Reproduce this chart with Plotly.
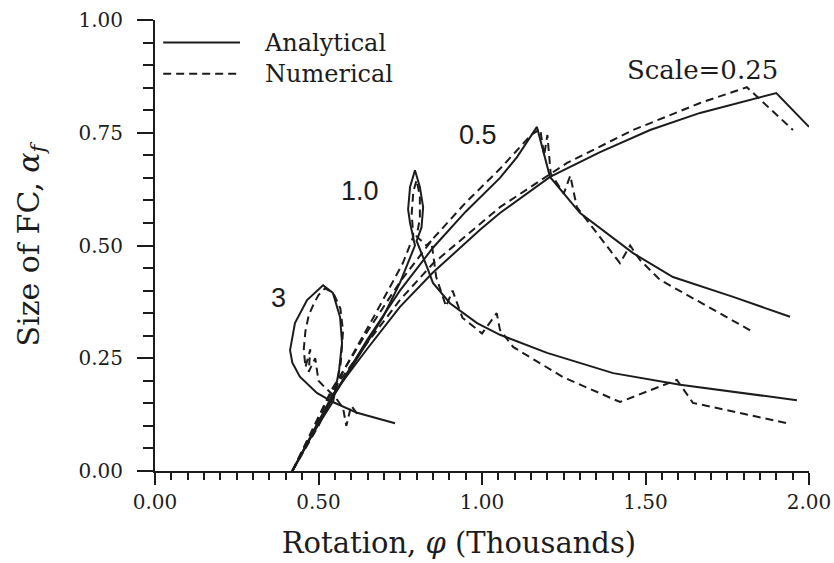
import plotly.graph_objects as go

# ---- data (rotation in thousands, size of FC) ----
x_an_3 = [0.42, 0.48, 0.545, 0.563, 0.572, 0.566, 0.544, 0.514, 0.465, 0.428, 0.413, 0.420, 0.443, 0.495, 0.544, 0.618, 0.734]
y_an_3 = [0.0, 0.08, 0.155, 0.224, 0.284, 0.341, 0.395, 0.412, 0.379, 0.328, 0.268, 0.240, 0.209, 0.173, 0.153, 0.129, 0.106]

x_nu_3 = [0.42, 0.48, 0.55, 0.568, 0.575, 0.567, 0.545, 0.52, 0.50, 0.485, 0.47, 0.46, 0.455, 0.46, 0.475, 0.47, 0.49, 0.50, 0.52, 0.55, 0.575, 0.585, 0.60, 0.62]
y_nu_3 = [0.0, 0.085, 0.17, 0.24, 0.31, 0.36, 0.395, 0.405, 0.39, 0.37, 0.345, 0.31, 0.27, 0.23, 0.27, 0.22, 0.25, 0.20, 0.185, 0.165, 0.14, 0.10, 0.145, 0.125]

x_an_10 = [0.42, 0.544, 0.648, 0.697, 0.749, 0.795, 0.78, 0.774, 0.78, 0.795, 0.81, 0.82, 0.815, 0.80, 0.832, 0.850, 0.902, 0.985, 1.055, 1.199, 1.401, 1.606, 1.963]
y_an_10 = [0.0, 0.164, 0.284, 0.341, 0.417, 0.50, 0.55, 0.58, 0.63, 0.667, 0.63, 0.585, 0.54, 0.51, 0.452, 0.417, 0.372, 0.328, 0.302, 0.262, 0.217, 0.191, 0.157]

x_nu_10 = [0.42, 0.50, 0.575, 0.679, 0.758, 0.79, 0.785, 0.79, 0.80, 0.81, 0.81, 0.80, 0.83, 0.845, 0.86, 0.89, 0.91, 0.94, 1.00, 1.045, 1.055, 1.095, 1.248, 1.422, 1.596, 1.645, 1.933]
y_nu_10 = [0.0, 0.10, 0.22, 0.355, 0.461, 0.52, 0.57, 0.62, 0.645, 0.61, 0.56, 0.52, 0.50, 0.51, 0.43, 0.365, 0.40, 0.34, 0.305, 0.35, 0.313, 0.275, 0.208, 0.153, 0.202, 0.151, 0.106]

x_an_05 = [0.42, 0.544, 0.648, 0.749, 0.85, 0.95, 1.055, 1.107, 1.168, 1.208, 1.30, 1.462, 1.584, 1.768, 1.942]
y_an_05 = [0.0, 0.165, 0.29, 0.40, 0.495, 0.575, 0.65, 0.696, 0.763, 0.652, 0.572, 0.483, 0.430, 0.386, 0.342]

x_nu_05 = [0.42, 0.54, 0.65, 0.75, 0.85, 0.95, 1.055, 1.15, 1.178, 1.19, 1.20, 1.21, 1.25, 1.27, 1.29, 1.36, 1.422, 1.453, 1.483, 1.544, 1.83]
y_nu_05 = [0.0, 0.18, 0.31, 0.42, 0.515, 0.595, 0.67, 0.745, 0.758, 0.70, 0.745, 0.66, 0.615, 0.655, 0.585, 0.52, 0.461, 0.50, 0.468, 0.424, 0.308]

x_an_025 = [0.42, 0.544, 0.648, 0.749, 0.85, 0.994, 1.055, 1.208, 1.361, 1.514, 1.667, 1.90, 2.0]
y_an_025 = [0.0, 0.17, 0.27, 0.364, 0.44, 0.535, 0.572, 0.652, 0.707, 0.756, 0.794, 0.838, 0.763]

x_nu_025 = [0.42, 0.54, 0.65, 0.75, 0.85, 1.055, 1.26, 1.462, 1.667, 1.81, 1.951]
y_nu_025 = [0.0, 0.175, 0.285, 0.38, 0.46, 0.585, 0.683, 0.756, 0.816, 0.851, 0.756]

x_ticks = [0.0, 0.5, 1.0, 1.5, 2.0]
y_ticks = [0.0, 0.25, 0.5, 0.75, 1.0]

scale_labels = ["3", "1.0", "0.5", "Scale=0.25"]
scale_label_x = [0.379, 0.627, 0.988, 1.675]
scale_label_y = [0.384, 0.62, 0.745, 0.89]

legend_names = ["Analytical", "Numerical"]

INK = "#1c1c1c"
SERIF = "DejaVu Serif"
SANS = "Liberation Sans, Arial, sans-serif"

fig = go.Figure()
series = [
    (x_an_3, y_an_3, "solid"), (x_nu_3, y_nu_3, "dash"),
    (x_an_10, y_an_10, "solid"), (x_nu_10, y_nu_10, "dash"),
    (x_an_05, y_an_05, "solid"), (x_nu_05, y_nu_05, "dash"),
    (x_an_025, y_an_025, "solid"), (x_nu_025, y_nu_025, "dash"),
]
for xs, ys, dash in series:
    fig.add_trace(go.Scatter(
        x=xs, y=ys, mode="lines",
        line=dict(color=INK, width=2, dash="8px,5px" if dash == "dash" else "solid"),
        showlegend=False, hoverinfo="skip",
    ))

# legend: long line samples + one two-line label block
leg_font = 24
row_gap = 1.3 * leg_font / 451.0  # plotly line spacing, in y-data units
leg_y = [0.95, 0.95 - row_gap]
for ly, dash in zip(leg_y, ["solid", "8px,5px"]):
    fig.add_shape(type="line", xref="x", yref="y", x0=0.025, x1=0.26, y0=ly, y1=ly,
                  line=dict(color=INK, width=2, dash=dash))
fig.add_annotation(x=0.327, y=(leg_y[0] + leg_y[1]) / 2, xref="x", yref="y",
                   text="<br>".join(legend_names), showarrow=False, align="left",
                   xanchor="left", yanchor="middle",
                   font=dict(family=SERIF, size=leg_font, color=INK))

for t, lx, ly in zip(scale_labels, scale_label_x, scale_label_y):
    is_serif = t.startswith("Scale")
    fig.add_annotation(x=lx, y=ly, xref="x", yref="y", text=t, showarrow=False,
                       xanchor="center", yanchor="middle",
                       font=dict(family=SERIF if is_serif else SANS,
                                 size=26 if is_serif else 27, color=INK))

pad = "&#160;" * 5
fig.update_layout(
    width=834, height=563,
    margin=dict(l=155, r=25, t=20, b=92),
    paper_bgcolor="white", plot_bgcolor="white",
    showlegend=False,
    xaxis=dict(
        range=[0, 2.0], tickvals=x_ticks, tickformat=".2f", automargin=False,
        ticks="outside", ticklen=12, tickwidth=2, tickcolor=INK,
        minor=dict(dtick=0.05, tick0=0, ticks="outside", ticklen=7, tickwidth=1.5, tickcolor=INK),
        showline=True, linewidth=2, linecolor=INK, showgrid=False, zeroline=False,
        tickfont=dict(family=SERIF, size=20, color=INK),
        title=dict(text="Rotation, <i>φ</i> (Thousands)" + pad, standoff=20,
                   font=dict(family=SERIF, size=29, color=INK)),
    ),
    yaxis=dict(
        range=[0, 1.0], tickvals=y_ticks, tickformat=".2f", automargin=False,
        ticks="outside", ticklen=16, tickwidth=2, tickcolor=INK, ticklabelstandoff=10,
        minor=dict(dtick=0.05, tick0=0, ticks="outside", ticklen=10, tickwidth=1.5, tickcolor=INK),
        showline=True, linewidth=2, linecolor=INK, showgrid=False, zeroline=False,
        tickfont=dict(family=SERIF, size=20, color=INK),
        title=dict(text="Size of FC, <i>α</i><sub><i>f</i></sub>", standoff=30,
                   font=dict(family=SERIF, size=30, color=INK)),
    ),
)

fig.write_html("out.html", config={"displayModeBar": False},
               post_script="document.body.style.margin='0';document.body.style.padding='0';")
